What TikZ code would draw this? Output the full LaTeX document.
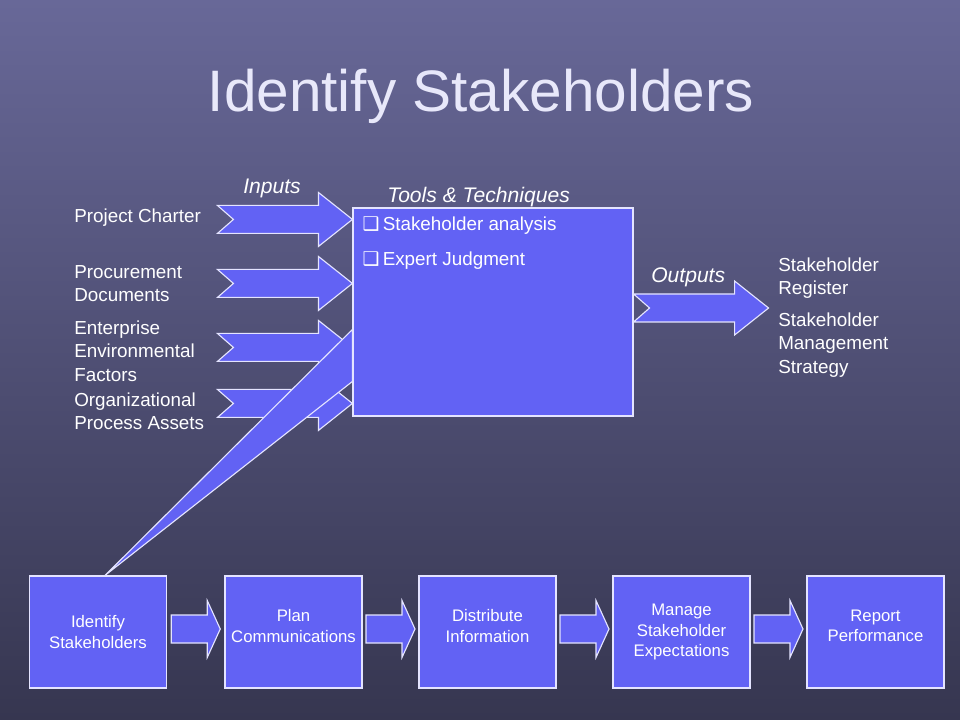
\documentclass[tikz,border=0pt]{standalone}
\usepackage{fontspec}
\setmainfont{Liberation Sans}
\newfontfamily\dingfont{DejaVu Sans}
\usetikzlibrary{calc}
\definecolor{bgTop}{RGB}{104,104,152}
\definecolor{bgBottom}{RGB}{54,54,80}
\definecolor{boxBlue}{RGB}{98,98,244}
\definecolor{edgeWhite}{RGB}{228,228,255}
\definecolor{titleLilac}{RGB}{232,232,250}
\newdimen\px \px=0.025cm
\newcommand{\sqbullet}{{\dingfont\char"2751}}
% notched block arrow ending at #1
\newcommand{\notcharrow}[1]{%
  \draw[blockarrow,shift={(#1)}] (-135,-14) -- (-34,-14) -- (-34,-27) -- (0,0)
    -- (-34,27) -- (-34,14) -- (-135,14) -- (-119,0) -- cycle;}
% short block arrow centred on #1
\newcommand{\steparrow}[1]{%
  \draw[blockarrow,shift={(#1)}] (-24.5,-14) -- (11.5,-14) -- (11.5,-28.5) -- (24.5,0)
    -- (11.5,28.5) -- (11.5,14) -- (-24.5,14) -- cycle;}

\begin{document}
\begin{tikzpicture}[
  x=1\px,
  y=-1\px,
  font=\fontsize{13.4}{16.4}\selectfont,
  every node/.style={text=white},
  procbox/.style={
    rectangle,
    draw=edgeWhite,
    fill=boxBlue,
    line width=0.8pt,
    minimum width=137\px,
    minimum height=112\px,
    align=center,
    inner sep=2pt,
    font=\fontsize{11.9}{14.6}\selectfont
  },
  toolbox/.style={
    rectangle,
    draw=edgeWhite,
    fill=boxBlue,
    line width=0.8pt,
    minimum width=280\px,
    minimum height=208\px,
    inner sep=0pt
  },
  sidetext/.style={anchor=north west,align=left,inner sep=0pt},
  phase/.style={anchor=north west,inner sep=0pt,font=\fontsize{15}{18}\selectfont\itshape},
  blockarrow/.style={draw=edgeWhite,fill=boxBlue,line width=0.8pt,line join=miter}
]

% Background.
\shade[top color=bgTop,bottom color=bgBottom] (0,0) rectangle (960,720);

% Title.
\node[anchor=base,text=titleLilac,font=\fontsize{41.6}{48}\selectfont] (title) at (481,112) {Identify Stakeholders};

% Process box.
\node[toolbox] (tools) at (493,312) {};
\coordinate (in1) at ($(tools.north west)+(0,12)$);
\coordinate (in2) at ($(tools.north west)+(0,76)$);
\coordinate (in3) at ($(tools.north west)+(0,140)$);
\coordinate (in4) at ($(tools.north west)+(0,196)$);
\coordinate (outtip) at ($(tools.east)+(135,-4)$);

% Inputs.
\notcharrow{in1}
\notcharrow{in2}
\notcharrow{in3}
\notcharrow{in4}
\node[sidetext] (charter) at (74,209) {Project Charter};
\node[sidetext] (procure) at (74,265) {Procurement\\Documents};
\node[sidetext] (enterprise) at (74,321) {Enterprise\\Environmental\\Factors};
\node[sidetext] (assets) at (74,393) {Organizational\\Process Assets};
\node[phase] (inputs) at (243,179) {Inputs};

% Tools and techniques.
\node[phase] (techniques) at (387,187) {Tools \& Techniques};
\node[sidetext] (analysis) at ($(tools.north west)+(10,9)$) {\sqbullet\,Stakeholder analysis};
\node[sidetext] (judgment) at ($(tools.north west)+(10,44)$) {\sqbullet\,Expert Judgment};

% Outputs.
\notcharrow{outtip}
\node[phase] (outputs) at (651,267) {Outputs};
\node[sidetext] (register) at (778,258) {Stakeholder\\Register};
\node[sidetext] (strategy) at (778,313) {Stakeholder\\Management\\Strategy};

% Process chain.
\node[procbox] (b1) at (98,632) {Identify\\Stakeholders};
\node[procbox] (b2) at (293.5,632) {Plan\\Communications\\[-6pt]};
\node[procbox] (b3) at (487.5,632) {Distribute\\Information\\[-6pt]};
\node[procbox] (b4) at (681.5,632) {Manage\\Stakeholder\\Expectations};
\node[procbox] (b5) at (875.5,632) {Report\\Performance\\[-6pt]};
\steparrow{$(b1.east)!0.5!(b2.west)+(0,-3)$}
\steparrow{$(b2.east)!0.5!(b3.west)+(0,-3)$}
\steparrow{$(b3.east)!0.5!(b4.west)+(0,-3)$}
\steparrow{$(b4.east)!0.5!(b5.west)+(0,-3)$}

% Wedge from the first step into the process box.
\draw[blockarrow] ($(b1.north)+(7,0)$) -- ($(tools.north west)+(0,122)$)
  -- ($(tools.north west)+(0,174)$) -- cycle;

\end{tikzpicture}
\end{document}
